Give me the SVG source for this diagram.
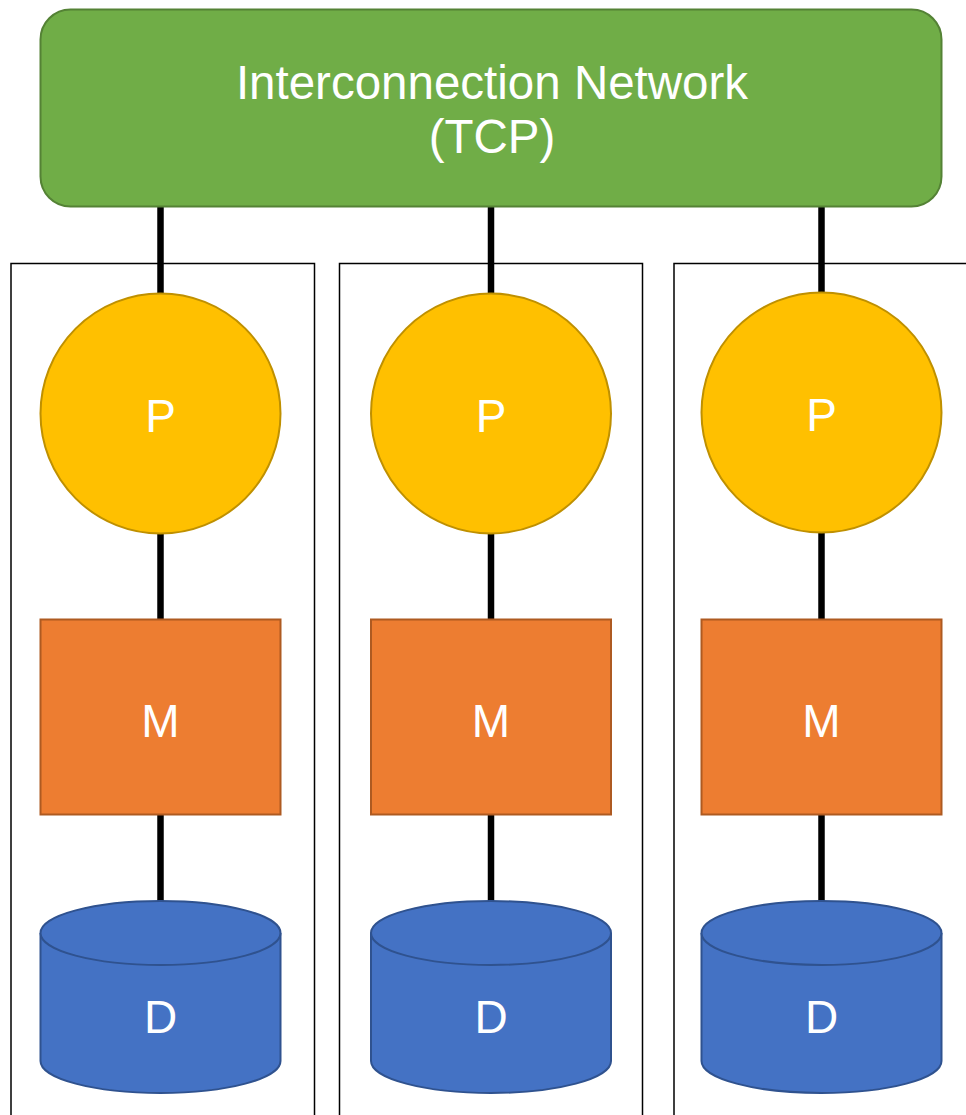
<svg xmlns="http://www.w3.org/2000/svg" width="966" height="1115" viewBox="0 0 966 1115">
<style>
.frame{fill:none;stroke:#000;stroke-width:1.5}
.net{fill:#70AD47;stroke:#548235;stroke-width:2}
.proc{fill:#FFC000;stroke:#BF9000;stroke-width:2}
.mem{fill:#ED7D31;stroke:#AE5A21;stroke-width:2}
.disk{fill:#4472C4;stroke:#2F528F;stroke-width:2}
.lbl{font-family:"Liberation Sans",Arial,sans-serif;fill:#fff;text-anchor:middle;font-size:46px}
.title{font-size:47.5px}
.conn line{stroke:#000;stroke-width:6.5}
</style>
<rect width="966" height="1115" fill="#fff"/>
<g id="frames">
<rect class="frame" x="11" y="263.5" width="303.5" height="870"/>
<rect class="frame" x="339.5" y="263.5" width="303" height="870"/>
<rect class="frame" x="674" y="263.5" width="310" height="870"/>
</g>
<g id="connectors" class="conn">
<line x1="160.5" y1="206" x2="160.5" y2="294"/>
<line x1="160.5" y1="532" x2="160.5" y2="620"/>
<line x1="160.5" y1="814" x2="160.5" y2="902"/>
<line x1="491" y1="206" x2="491" y2="294"/>
<line x1="491" y1="532" x2="491" y2="620"/>
<line x1="491" y1="814" x2="491" y2="902"/>
<line x1="821.5" y1="206" x2="821.5" y2="293"/>
<line x1="821.5" y1="532" x2="821.5" y2="620"/>
<line x1="821.5" y1="814" x2="821.5" y2="902"/>
</g>
<g id="network">
<rect class="net" x="40.5" y="9.5" width="901" height="197" rx="30" ry="30"/>
<text class="lbl title" x="492" y="98.5">Interconnection Network</text>
<text class="lbl title" x="492" y="153">(TCP)</text>
</g>
<g id="p1"><circle class="proc" cx="160.5" cy="413.5" r="120"/><text class="lbl" x="160.5" y="432">P</text></g>
<g id="p2"><circle class="proc" cx="491" cy="413.5" r="120"/><text class="lbl" x="491" y="432">P</text></g>
<g id="p3"><circle class="proc" cx="821.5" cy="412.5" r="120"/><text class="lbl" x="821.5" y="431">P</text></g>
<g id="m1"><rect class="mem" x="40.5" y="619.5" width="240" height="195"/><text class="lbl" x="160.5" y="737">M</text></g>
<g id="m2"><rect class="mem" x="371" y="619.5" width="240" height="195"/><text class="lbl" x="491" y="737">M</text></g>
<g id="m3"><rect class="mem" x="701.5" y="619.5" width="240" height="195"/><text class="lbl" x="821.5" y="737">M</text></g>
<g id="d1">
<path class="disk" d="M40.5,933 A120,32 0 0 1 280.5,933 L280.5,1061 A120,32 0 0 1 40.5,1061 Z"/>
<path class="disk" d="M40.5,933 A120,32 0 0 0 280.5,933" fill="none"/>
<text class="lbl" x="160.5" y="1033">D</text>
</g>
<g id="d2">
<path class="disk" d="M371,933 A120,32 0 0 1 611,933 L611,1061 A120,32 0 0 1 371,1061 Z"/>
<path class="disk" d="M371,933 A120,32 0 0 0 611,933" fill="none"/>
<text class="lbl" x="491" y="1033">D</text>
</g>
<g id="d3">
<path class="disk" d="M701.5,933 A120,32 0 0 1 941.5,933 L941.5,1061 A120,32 0 0 1 701.5,1061 Z"/>
<path class="disk" d="M701.5,933 A120,32 0 0 0 941.5,933" fill="none"/>
<text class="lbl" x="821.5" y="1033">D</text>
</g>
</svg>
